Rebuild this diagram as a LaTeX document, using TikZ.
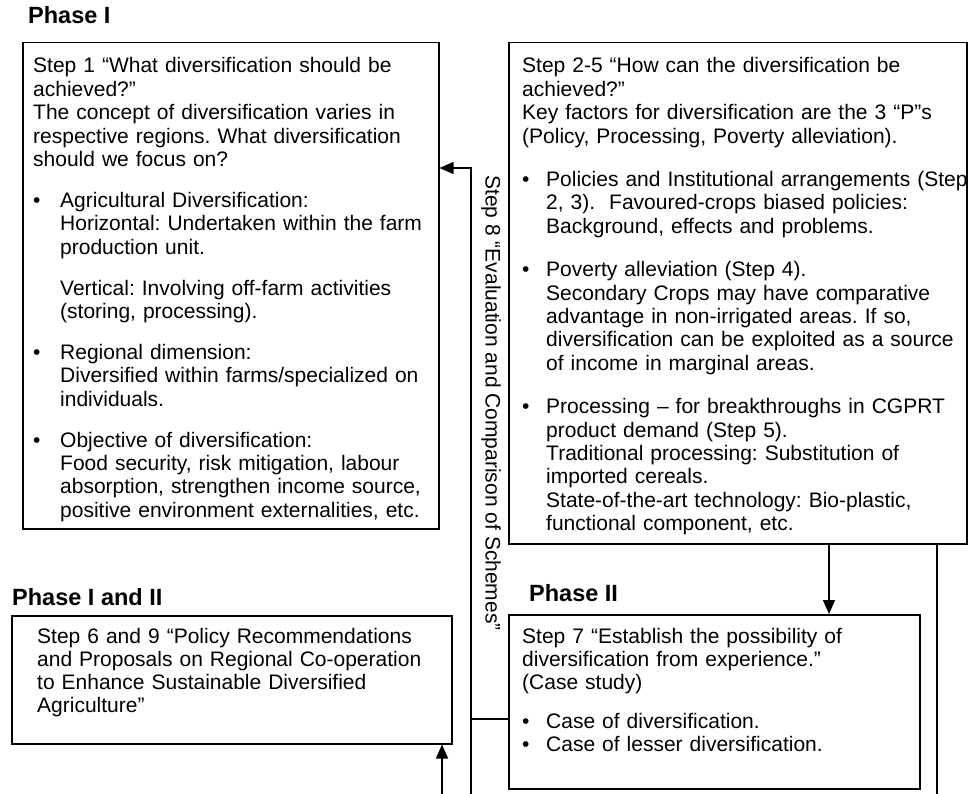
\documentclass[tikz,border=0pt]{standalone}
\usepackage{fontspec}
\setmainfont{Liberation Sans}
\usetikzlibrary{arrows.meta}

\newcommand{\boxfont}[1][23.3]{\fontsize{21}{#1}\selectfont\frenchspacing}
\newlength{\bind}
\setlength{\bind}{24pt}
\newcommand{\bitem}{\par\leftskip=\bind\noindent\hspace*{-\bind}\makebox[\bind][l]{\textbullet}}
\newcommand{\bgap}[1]{\par\vspace{#1}}

\tikzset{
  stepbox/.style={draw, line width=1.5pt, anchor=north west, inner sep=0pt},
  boxtext/.style={anchor=north west, inner sep=0pt, align=left, font=\boxfont},
  phase/.style={anchor=west, inner sep=0pt, font=\fontsize{23.5}{28}\selectfont\bfseries},
  link/.style={line width=1.3pt},
  arrow/.style={link, -{Triangle[length=14pt,width=12pt]}}
}

\begin{document}
\begin{tikzpicture}[x=1pt,y=-1pt]
  \useasboundingbox (0,0) rectangle (970,794);

  % Phase labels
  \node[phase] (ph1) at (28,15) {Phase I};
  \node[phase] (ph12) at (12,597) {Phase I and II};
  \node[phase] (ph2) at (529,593) {Phase II};

  % Step boxes
  \node[stepbox, minimum width=416pt, minimum height=486pt] (s1) at (22,42) {};
  \node[stepbox, minimum width=458pt, minimum height=501pt] (s2) at (508,42) {};
  \node[stepbox, minimum width=440pt, minimum height=128pt] (s6) at (11,615) {};
  \node[stepbox, minimum width=411pt, minimum height=174pt] (s7) at (508,614) {};

  % Step 1
  \node[boxtext, font={\boxfont[23.4]}, text width=405pt] (t1) at (33,57.5) {\setlength{\bind}{27pt}%
    Step 1 “What diversification should be\\
    achieved?”\\
    The concept of diversification varies in\\
    respective regions. What diversification\\
    should we focus on?
    \bgap{17.5pt}\bitem Agricultural Diversification:\\
    Horizontal: Undertaken within the farm\\
    production unit.
    \bgap{17.5pt}Vertical: Involving off-farm activities\\
    (storing, processing).
    \bgap{17.5pt}\bitem Regional dimension:\\
    Diversified within farms/specialized on\\
    individuals.
    \bgap{17.5pt}\bitem Objective of diversification:\\
    Food security, risk mitigation, labour\\
    absorption, strengthen income source,\\
    positive environment externalities, etc.\par};

  % Step 2-5
  \node[boxtext, font={\boxfont[23.4]}, text width=450pt] (t2) at (522,57.5) {Step 2-5 “How can the diversification be\\
    achieved?”\\
    Key factors for diversification are the 3 “P”s\\
    (Policy, Processing, Poverty alleviation).
    \bgap{20pt}\bitem Policies and Institutional arrangements (Step\\
    2, 3).~ Favoured-crops biased policies:\\
    Background, effects and problems.
    \bgap{20pt}\bitem Poverty alleviation (Step 4).\\
    Secondary Crops may have comparative\\
    advantage in non-irrigated areas. If so,\\
    diversification can be exploited as a source\\
    of income in marginal areas.
    \bgap{20pt}\bitem Processing – for breakthroughs in CGPRT\\
    product demand (Step 5).\\
    Traditional processing: Substitution of\\
    imported cereals.\\
    State-of-the-art technology: Bio-plastic,\\
    functional component, etc.\par};

  % Step 6 and 9
  \node[boxtext, font={\boxfont[23]}, text width=420pt] (t6) at (37,628.5) {Step 6 and 9 “Policy Recommendations\\
    and Proposals on Regional Co-operation\\
    to Enhance Sustainable Diversified\\
    Agriculture”\par};

  % Step 7
  \node[boxtext, font={\boxfont[23]}, text width=400pt] (t7) at (522,628.5) {Step 7 “Establish the possibility of\\
    diversification from experience.”\\
    (Case study)
    \bgap{16pt}\bitem Case of diversification.
    \bitem Case of lesser diversification.\par};

  % Step 8 (vertical label)
  \node[font=\boxfont, rotate=-90, inner sep=0pt] (s8) at (491,403) {Step 8 “Evaluation and Comparison of Schemes”};

  % Connectors
  \coordinate (loop) at (471,168);
  \coordinate (loopend) at (471,794);
  \coordinate (join7) at (471,719);
  \coordinate (drop) at (829,0);
  \coordinate (rside) at (937,794);
  \coordinate (upend) at (442,794);

  \draw[arrow] (loopend) -- (loop) -- (s1.east |- loop);
  \draw[link] (s7.west |- join7) -- (join7);
  \draw[arrow] (s2.south -| drop) -- (s7.north -| drop);
  \draw[link] (s2.south -| rside) -- (rside);
  \draw[arrow] (upend) -- (s6.south -| upend);
\end{tikzpicture}
\end{document}
